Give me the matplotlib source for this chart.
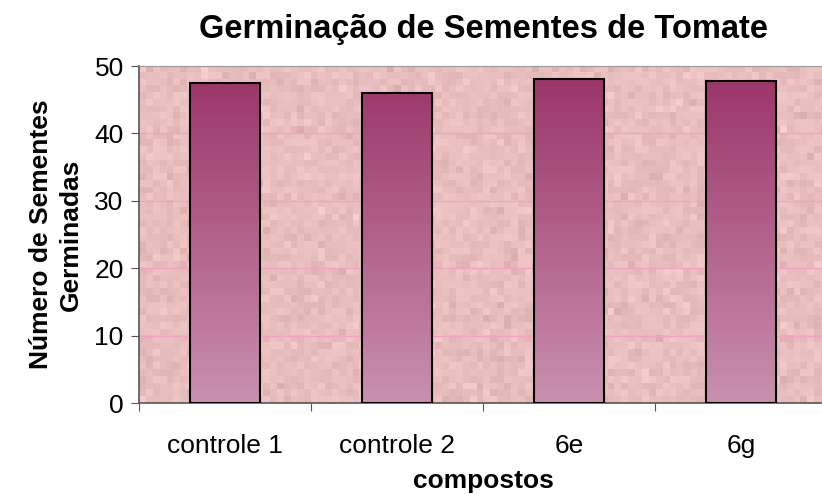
import numpy as np
import matplotlib.pyplot as plt
from matplotlib.colors import LinearSegmentedColormap

# Dados
compostos = ['controle 1', 'controle 2', '6e', '6g']
sementes = [47.5, 46.0, 48.1, 47.8]
y_ticks = [0, 10, 20, 30, 40, 50]

plt.rcParams['font.family'] = ['Liberation Sans', 'DejaVu Sans']

fig = plt.figure(figsize=(8.22, 4.94), dpi=100)
ax = fig.add_axes([139 / 822, 1 - 403 / 494, (827 - 139) / 822, (403 - 66) / 494])

# Fundo rosado com textura
rng = np.random.default_rng(3)
tex = rng.normal(0, 1, (50, 100))
base = np.array([233, 190, 190]) / 255.0
img = base[None, None, :] + tex[..., None] * np.array([0.018, 0.022, 0.022])
img = np.clip(img, 0, 1)
ax.imshow(img, extent=[0, 4, 0, 50], aspect='auto', interpolation='nearest', zorder=0)

# Linhas de grade
for v in y_ticks[1:-1]:
    ax.axhline(v, color='#f4a0c8', lw=1, zorder=1)

# Barras com degradê vertical
cmap = LinearSegmentedColormap.from_list('grad', ['#c990b0', '#993366'])
grad = np.linspace(0, 1, 256).reshape(-1, 1)
largura = 0.41
for i, v in enumerate(sementes):
    x0 = i + 0.5 - largura / 2
    ax.imshow(grad, extent=[x0, x0 + largura, 0, 50], origin='lower', cmap=cmap,
              aspect='auto', zorder=2, clip_on=True)
    im = ax.images[-1]
    rect = plt.Rectangle((x0, 0), largura, v, facecolor='none', edgecolor='black', lw=1.5, zorder=3)
    ax.add_patch(rect)
    im.set_clip_path(rect)

ax.set_xlim(0, 4)
ax.set_ylim(0, 50)
ax.set_yticks(y_ticks)
ax.set_xticks(range(5))
ax.set_xticklabels([])
ax.set_xticks([i + 0.5 for i in range(4)], minor=True)
ax.set_xticklabels(compostos, minor=True)
ax.tick_params(axis='x', which='minor', length=0, pad=22, labelsize=19)
ax.tick_params(axis='x', which='major', length=6, direction='out', color='#555555')
ax.tick_params(axis='y', length=6, direction='out', labelsize=19, color='#555555', pad=5)

for s in ['left', 'bottom']:
    ax.spines[s].set_color('#555555')
    ax.spines[s].set_linewidth(1.2)
ax.spines['top'].set_color('#999999')
ax.spines['right'].set_visible(False)

ax.set_title('Germinação de Sementes de Tomate', fontsize=23.5, fontweight='bold', pad=20)
ax.set_xlabel('compostos', fontsize=19, fontweight='bold', labelpad=8)
ax.set_ylabel('Número de Sementes\nGerminadas', fontsize=19, fontweight='bold',
              labelpad=8, linespacing=1.35)

fig.savefig('out.png', dpi=100)
